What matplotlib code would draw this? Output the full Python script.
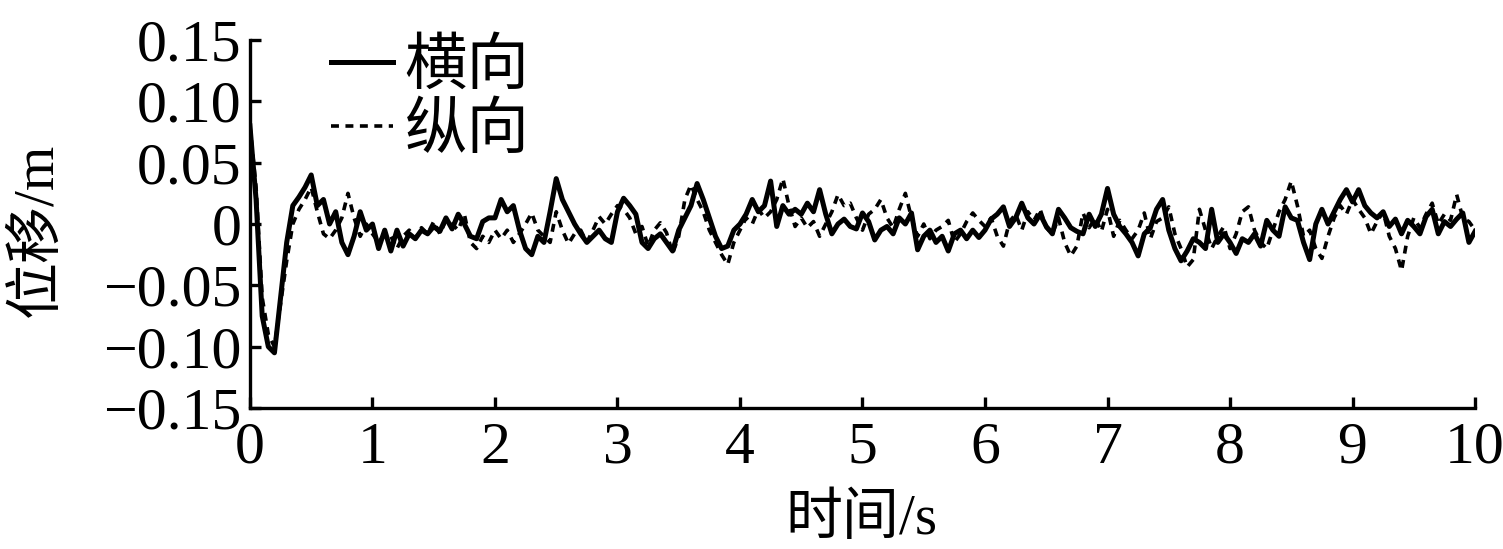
import numpy as np
import matplotlib
matplotlib.use("Agg")
import matplotlib.pyplot as plt

# time axis (s)
time_s = [round(0.05 * i, 2) for i in range(201)]

# transverse displacement (m) - solid line
transverse = [
    0.080, 0.020, -0.075, -0.100, -0.105, -0.060, -0.015, 0.015, 0.022, 0.030,
    0.040, 0.015, 0.020, 0.000, 0.010, -0.015, -0.025, -0.010, 0.010, -0.005,
    0.000, -0.020, -0.005, -0.022, -0.005, -0.018, -0.008, -0.012, -0.005, -0.008,
    -0.002, -0.006, 0.005, -0.004, 0.008, 0.000, -0.010, -0.012, 0.002, 0.005,
    0.005, 0.020, 0.010, 0.015, -0.005, -0.020, -0.025, -0.010, -0.015, 0.010,
    0.037, 0.020, 0.010, 0.000, -0.008, -0.015, -0.010, -0.005, -0.012, -0.015,
    0.010, 0.021, 0.015, 0.008, -0.015, -0.020, -0.012, -0.008, -0.015, -0.022,
    -0.005, 0.005, 0.015, 0.033, 0.020, 0.005, -0.010, -0.020, -0.018, -0.005,
    0.000, 0.008, 0.020, 0.010, 0.015, 0.035, -0.002, 0.015, 0.008, 0.012,
    0.008, 0.017, 0.010, 0.028, 0.008, -0.008, 0.000, 0.004, -0.002, -0.004,
    0.009, 0.002, -0.013, -0.005, -0.002, -0.008, 0.005, 0.000, 0.009, -0.021,
    -0.010, -0.005, -0.015, -0.010, -0.022, -0.008, -0.005, -0.012, -0.005, -0.011,
    -0.005, 0.004, 0.008, 0.014, -0.002, 0.005, 0.017, 0.005, 0.000, 0.008,
    -0.002, -0.008, 0.012, 0.005, -0.003, -0.006, -0.008, 0.008, -0.002, 0.008,
    0.029, 0.008, -0.002, -0.008, -0.015, -0.026, -0.008, -0.003, 0.012, 0.020,
    -0.005, -0.020, -0.030, -0.022, -0.012, -0.015, -0.020, 0.012, -0.015, -0.008,
    -0.015, -0.024, -0.012, -0.015, -0.008, -0.018, 0.003, -0.005, -0.010, 0.014,
    0.005, 0.003, -0.015, -0.029, 0.000, 0.012, 0.000, 0.010, 0.020, 0.028,
    0.018, 0.028, 0.015, 0.009, 0.005, 0.010, -0.002, 0.004, -0.008, 0.003,
    -0.002, -0.008, 0.006, 0.012, -0.008, 0.002, -0.002, 0.004, 0.009, -0.015,
    -0.006,
]

# longitudinal displacement (m) - dashed line
longitudinal = [
    0.080, 0.030, -0.060, -0.090, -0.100, -0.065, -0.030, 0.000, 0.012, 0.020,
    0.030, 0.010, -0.008, -0.012, -0.005, 0.005, 0.025, 0.005, -0.010, 0.000,
    -0.008, -0.015, -0.008, -0.010, -0.020, -0.010, -0.005, -0.012, -0.003, -0.008,
    0.002, -0.008, 0.003, 0.000, -0.005, 0.008, -0.015, -0.020, -0.010, -0.015,
    -0.005, -0.012, -0.005, -0.015, -0.008, 0.000, 0.009, -0.005, -0.010, -0.015,
    0.010, -0.005, -0.016, -0.008, -0.005, -0.015, -0.005, 0.006, 0.000, 0.008,
    0.015, 0.012, 0.005, -0.008, -0.002, -0.018, -0.005, 0.001, -0.007, -0.024,
    -0.010, 0.020, 0.032, 0.020, 0.010, -0.005, -0.015, -0.025, -0.033, -0.015,
    -0.005, 0.005, 0.000, 0.012, 0.005, 0.010, 0.020, 0.037, 0.015, -0.002,
    0.005, -0.003, 0.002, -0.010, 0.000, 0.010, 0.024, 0.015, 0.017, 0.005,
    -0.005, 0.008, 0.012, 0.020, 0.005, -0.003, 0.012, 0.025, 0.005, -0.010,
    0.000, -0.012, -0.005, -0.002, 0.003, -0.015, -0.008, 0.002, 0.009, 0.003,
    -0.002, 0.005, -0.010, -0.018, 0.002, 0.008, -0.005, 0.010, 0.003, 0.012,
    -0.003, -0.008, 0.005, -0.015, -0.026, -0.018, 0.009, -0.003, 0.005, -0.006,
    0.012, -0.010, 0.003, -0.005, -0.012, -0.005, 0.009, -0.012, 0.002, 0.005,
    0.014, -0.008, -0.020, -0.035, -0.029, 0.012, -0.005, -0.020, -0.010, -0.002,
    -0.020, -0.008, 0.010, 0.014, -0.005, -0.015, -0.020, -0.005, 0.010, 0.020,
    0.035, 0.015, -0.010, -0.005, -0.020, -0.028, -0.010, 0.005, 0.015, 0.008,
    0.020, 0.012, 0.005, -0.008, 0.002, 0.010, -0.010, -0.020, -0.038, -0.010,
    0.005, -0.003, 0.008, 0.017, 0.000, 0.008, 0.003, 0.024, 0.005, 0.002,
    -0.005,
]

x_ticks = [0, 1, 2, 3, 4, 5, 6, 7, 8, 9, 10]
y_ticks = [-0.15, -0.10, -0.05, 0, 0.05, 0.10, 0.15]
y_tick_labels = ["\u22120.15", "\u22120.10", "\u22120.05", "0", "0.05", "0.10", "0.15"]
series_names = ["横向", "纵向"]

plt.rcParams["font.family"] = ["Liberation Serif", "Noto Sans CJK SC"]
plt.rcParams["axes.unicode_minus"] = True

fig = plt.figure(figsize=(15.03, 5.49), dpi=100)
ax = fig.add_axes([0.1663, 0.2568, 0.8151, 0.6703])

ax.plot(time_s, transverse, color="black", lw=3.6, solid_joinstyle="round",
        label=series_names[0])
ax.plot(time_s, longitudinal, color="black", lw=2.6, ls=(0, (2.2, 1.8)),
        label=series_names[1])

ax.set_xlim(0, 10)
ax.set_ylim(-0.15, 0.15)
ax.set_xticks(x_ticks)
ax.set_xticklabels([str(v) for v in x_ticks])
ax.set_yticks(y_ticks)
ax.set_yticklabels(y_tick_labels)

for s in ["top", "right"]:
    ax.spines[s].set_visible(False)
for s in ["left", "bottom"]:
    ax.spines[s].set_linewidth(2.4)
ax.tick_params(direction="in", length=8, width=2.4, labelsize=43)
ax.tick_params(axis="x", pad=10)
ax.tick_params(axis="y", pad=6)

ax.set_xlabel("时间/s", fontsize=41)
ax.set_ylabel("位移/m", fontsize=41)
ax.xaxis.set_label_coords(0.499, -0.232)
ax.yaxis.set_label_coords(-0.152, 0.484)

leg = ax.legend(loc="upper left", bbox_to_anchor=(0.066, 1.0), frameon=False,
                fontsize=45, handlelength=1.0, handletextpad=0.18,
                labelspacing=0.1, borderpad=0.0, borderaxespad=0.0)

fig.savefig("out.png", dpi=100)
